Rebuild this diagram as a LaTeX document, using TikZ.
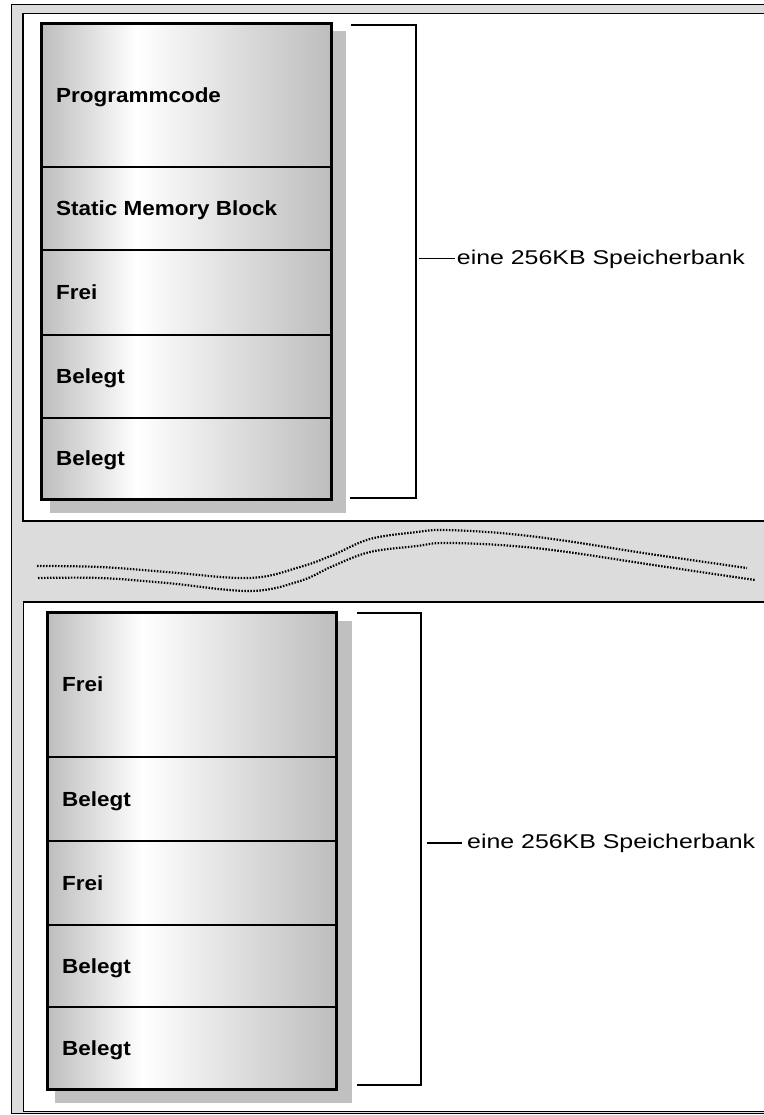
\documentclass[tikz,border=0pt]{standalone}
\usepackage{fontspec}
\setmainfont{Liberation Sans}
\newfontfamily\boxfont[FakeStretch=1.1]{Liberation Sans Bold}
\newfontfamily\bankfont[FakeStretch=1.25]{Liberation Sans}
\definecolor{bandgray}{RGB}{220,220,220}
\definecolor{shadowgray}{RGB}{192,192,192}
\definecolor{edgegray}{RGB}{189,189,189}
\pgfdeclarehorizontalshading{memshade}{100bp}{color(0bp)=(edgegray); color(25bp)=(edgegray); color(41.5bp)=(white); color(75bp)=(edgegray); color(100bp)=(edgegray)}
\tikzset{
  outerframe/.style={draw=black, line width=1.5bp, fill=bandgray},
  panel/.style={fill=white, draw=black, line width=1.5bp},
  shadowbox/.style={fill=shadowgray},
  memrow/.style={shading=memshade, draw=black, line width=2bp},
  memframe/.style={draw=black, line width=3bp},
  rowlabel/.style={anchor=base west, inner sep=0pt, font=\boxfont\fontsize{20.5}{22}\selectfont},
  banklabel/.style={anchor=base west, inner sep=0pt, font=\bankfont\fontsize{20}{22}\selectfont},
  bracket/.style={draw=black, line width=1.5bp},
  wave/.style={line width=2.2bp, dash pattern=on 1.5bp off 1.5bp}
}
\begin{document}
\begin{tikzpicture}[x=1bp,y=-1bp]
\useasboundingbox (0,0) rectangle (764,1115);
\clip (0,0) rectangle (764,1115);
% frames
\path[outerframe] (11.5,4.5) rectangle (800,1113.5);
\path[panel] (23,13.5) rectangle (800,521);
\path[panel] (23.5,602) rectangle (800,1111.5);
% wavy break lines
\draw[wave] plot[smooth, tension=0.6] coordinates {(37,566) (100,567) (167,572) (250,578) (300,567) (333,555) (370,539) (417,532) (443,530) (500,533) (560,540) (650,554) (747,568)};
\draw[wave] plot[smooth, tension=0.6] coordinates {(38,578) (100,578) (167,583) (250,591) (300,581) (333,566) (370,552) (417,546) (443,543) (500,545) (560,551) (660,566) (755,580)};
% top memory bank
\fill[shadowgray] (50,31) rectangle (346,513);
\path[memrow] (41,23) rectangle (331.5,167);
\path[memrow] (41,167) rectangle (331.5,250);
\path[memrow] (41,250) rectangle (331.5,335);
\path[memrow] (41,335) rectangle (331.5,418);
\path[memrow] (41,418) rectangle (331.5,499);
\path[memframe] (41,23) rectangle (331.5,499);
\node[rowlabel] (a1) at (56,102) {Programmcode};
\node[rowlabel] (a2) at (56,215.5) {Static Memory Block};
\node[rowlabel] (a3) at (56,299.5) {Frei};
\node[rowlabel] (a4) at (56,383.5) {Belegt};
\node[rowlabel] (a5) at (56,465.5) {Belegt};
% top bracket
\draw[bracket] (351,25) -- (416,25) -- (416,498) -- (350,498);
\coordinate (tb) at (419,258.5);
\node[banklabel] (bank1) at (456.7,264) {eine 256KB Speicherbank};
\draw[bracket] (tb) -- ([xshift=-1.5bp]tb -| bank1.west);
% bottom memory bank
\fill[shadowgray] (55,621) rectangle (351.5,1103);
\path[memrow] (47,612) rectangle (336.5,757);
\path[memrow] (47,757) rectangle (336.5,841);
\path[memrow] (47,841) rectangle (336.5,925);
\path[memrow] (47,925) rectangle (336.5,1007);
\path[memrow] (47,1007) rectangle (336.5,1089.5);
\path[memframe] (47,612) rectangle (336.5,1089.5);
\node[rowlabel] (b1) at (62,691.5) {Frei};
\node[rowlabel] (b2) at (62,806) {Belegt};
\node[rowlabel] (b3) at (62,890) {Frei};
\node[rowlabel] (b4) at (62,973) {Belegt};
\node[rowlabel] (b5) at (62,1055) {Belegt};
% bottom bracket
\draw[bracket] (357,613) -- (421,613) -- (421,1085) -- (357,1085);
\coordinate (bb) at (427,843);
\node[banklabel] (bank2) at (467,848.5) {eine 256KB Speicherbank};
\draw[bracket] (bb) -- ([xshift=-5bp]bb -| bank2.west);
\end{tikzpicture}
\end{document}
